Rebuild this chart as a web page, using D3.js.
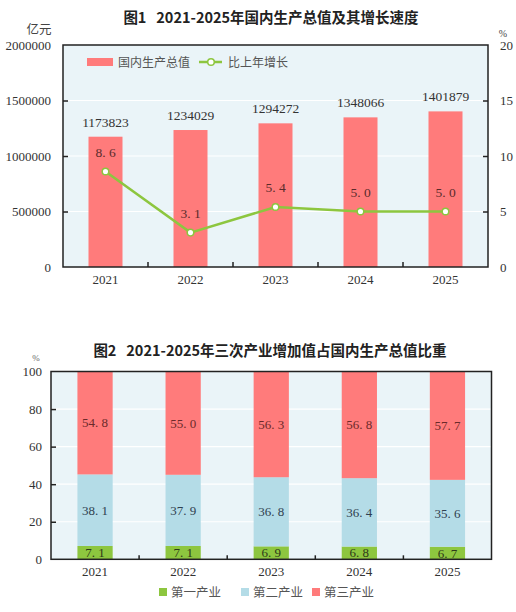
<!DOCTYPE html>
<html><head><meta charset="utf-8">
<script src="https://cdn.jsdelivr.net/npm/d3@7"></script>
<style>
body{margin:0;background:#fff;}
svg{display:block;}
.ttl{white-space:pre;}
</style></head>
<body><svg id="c" width="516" height="612"></svg>
<script>
// ---- data ----
const years = ["2021","2022","2023","2024","2025"];
const gdp = [1173823, 1234029, 1294272, 1348066, 1401879];
const growth = [8.6, 3.1, 5.4, 5.0, 5.0];
const gdpTicks = [0, 500000, 1000000, 1500000, 2000000];
const growthTicks = [0, 5, 10, 15, 20];
const primary = [7.1, 7.1, 6.9, 6.8, 6.7];
const secondary = [38.1, 37.9, 36.8, 36.4, 35.6];
const tertiary = [54.8, 55.0, 56.3, 56.8, 57.7];
const shareTicks = [0, 20, 40, 60, 80, 100];
const sectorNames = ["第一产业", "第二产业", "第三产业"];
const title1 = "图1   2021-2025年国内生产总值及其增长速度";
const title2 = "图2   2021-2025年三次产业增加值占国内生产总值比重";

const RED = "#ff7b7b", GREEN = "#8dc63f", BLUE = "#b4dce7", BG = "#eaf4f8";
const serif = "'Liberation Serif','DejaVu Serif',serif";
const cjk = "'Noto Sans CJK SC','Noto Sans',sans-serif";
const fmt1 = d => d.toFixed(1).replace(".", ". ");

const svg = d3.select("#c");

// ================= Chart 1 =================
{
  const L = 63, R = 488, T = 45, B = 267;
  const x = d3.scaleBand().domain(years).range([L, R]).paddingInner(0.6).paddingOuter(0.3);
  const y = d3.scaleLinear().domain([0, 2000000]).range([B, T]);
  const y2 = d3.scaleLinear().domain([0, 20]).range([B, T]);
  const g = svg.append("g");

  g.append("text").attr("class", "ttl").attr("xml:space", "preserve").attr("x", 271).attr("y", 23).attr("text-anchor", "middle")
    .attr("font-family", cjk).attr("font-weight", "bold").attr("font-size", 14.5).attr("fill", "#222").text(title1);

  g.append("rect").attr("x", L).attr("y", T).attr("width", R - L).attr("height", B - T).attr("fill", BG);
  g.append("g").selectAll("line").data(gdpTicks.slice(1, -1)).join("line")
    .attr("x1", L).attr("x2", R).attr("y1", d => y(d)).attr("y2", d => y(d))
    .attr("stroke", "#fff").attr("stroke-width", 1.2);

  g.selectAll(".bar").data(gdp).join("rect").attr("class", "bar")
    .attr("x", (d, i) => x(years[i])).attr("width", x.bandwidth())
    .attr("y", d => y(d)).attr("height", d => B - y(d)).attr("fill", RED);

  g.selectAll(".bl").data(gdp).join("text").attr("class", "bl")
    .attr("x", (d, i) => x(years[i]) + x.bandwidth() / 2).attr("y", d => y(d) - 10)
    .attr("text-anchor", "middle").attr("font-family", serif).attr("font-size", 13.5).attr("fill", "#333")
    .text(d => d);

  // axes
  const ax = g.append("g").attr("transform", `translate(${L},0)`)
    .call(d3.axisLeft(y).tickValues(gdpTicks).tickSize(-5).tickPadding(12).tickFormat(d3.format("d")));
  ax.select(".domain").remove();
  ax.selectAll("text").attr("font-family", serif).attr("font-size", 13).attr("fill", "#333");
  ax.selectAll("line").attr("stroke", "#222").attr("stroke-width", 1.5);
  ax.selectAll(".tick").filter(d => d === 0 || d === 2000000).select("line").remove();

  const ax2 = g.append("g").attr("transform", `translate(${R},0)`)
    .call(d3.axisRight(y2).tickValues(growthTicks).tickSize(-5).tickPadding(12));
  ax2.select(".domain").remove();
  ax2.selectAll("text").attr("font-family", serif).attr("font-size", 13).attr("fill", "#333");
  ax2.selectAll("line").attr("stroke", "#222").attr("stroke-width", 1.5);
  ax2.selectAll(".tick").filter(d => d === 0 || d === 20).select("line").remove();

  // x axis
  const bounds = years.slice(1).map(yr => x(yr) - x.step() * x.paddingInner() / 2);
  g.selectAll(".xt").data(bounds).join("line").attr("class", "xt")
    .attr("x1", d => d).attr("x2", d => d).attr("y1", B).attr("y2", B - 5)
    .attr("stroke", "#222").attr("stroke-width", 1.5);
  g.selectAll(".xl").data(years).join("text").attr("class", "xl")
    .attr("x", d => x(d) + x.bandwidth() / 2).attr("y", B + 17).attr("text-anchor", "middle")
    .attr("font-family", serif).attr("font-size", 13).attr("fill", "#333").text(d => d);

  g.append("rect").attr("x", L).attr("y", T).attr("width", R - L).attr("height", B - T)
    .attr("fill", "none").attr("stroke", "#222").attr("stroke-width", 1.5);

  g.append("text").attr("x", 39).attr("y", 34).attr("text-anchor", "middle")
    .attr("font-family", cjk).attr("font-size", 12.5).attr("fill", "#444").text("亿元");
  g.append("text").attr("x", 503).attr("y", 37).attr("text-anchor", "middle")
    .attr("font-family", serif).attr("font-size", 10).attr("fill", "#444").text("%");

  // line
  const cx = (d, i) => x(years[i]) + x.bandwidth() / 2;
  g.append("path").datum(growth)
    .attr("d", d3.line().x(cx).y(d => y2(d)))
    .attr("fill", "none").attr("stroke", GREEN).attr("stroke-width", 2.5);
  g.selectAll(".pt").data(growth).join("circle").attr("class", "pt")
    .attr("cx", cx).attr("cy", d => y2(d)).attr("r", 3.3)
    .attr("fill", "#fff").attr("stroke", GREEN).attr("stroke-width", 1.5);
  g.selectAll(".pl").data(growth).join("text").attr("class", "pl")
    .attr("x", cx).attr("y", d => y2(d) - 15).attr("text-anchor", "middle")
    .attr("font-family", serif).attr("font-size", 13.5).attr("fill", "#5a2b2b").text(fmt1);

  // legend
  g.append("rect").attr("x", 87).attr("y", 58).attr("width", 26).attr("height", 8).attr("fill", RED);
  g.append("text").attr("x", 118).attr("y", 66.5).attr("font-family", cjk).attr("font-size", 12)
    .attr("fill", "#555").text("国内生产总值");
  g.append("line").attr("x1", 199).attr("x2", 222).attr("y1", 62).attr("y2", 62).attr("stroke", GREEN).attr("stroke-width", 2.5);
  g.append("circle").attr("cx", 211).attr("cy", 62).attr("r", 3.3).attr("fill", "#fff").attr("stroke", GREEN).attr("stroke-width", 1.5);
  g.append("text").attr("x", 228).attr("y", 66.5).attr("font-family", cjk).attr("font-size", 12)
    .attr("fill", "#555").text("比上年增长");
}

// ================= Chart 2 =================
{
  const L = 51, R = 491.5, T = 371.5, B = 559.3;
  const x = d3.scaleBand().domain(years).range([L, R]).paddingInner(0.6).paddingOuter(0.3);
  const y = d3.scaleLinear().domain([0, 100]).range([B, T]);
  const g = svg.append("g");

  g.append("text").attr("class", "ttl").attr("xml:space", "preserve").attr("x", 270).attr("y", 356).attr("text-anchor", "middle")
    .attr("font-family", cjk).attr("font-weight", "bold").attr("font-size", 14.5).attr("fill", "#222").text(title2);

  g.append("rect").attr("x", L).attr("y", T).attr("width", R - L).attr("height", B - T).attr("fill", BG);
  g.append("g").selectAll("line").data(shareTicks.slice(1, -1)).join("line")
    .attr("x1", L).attr("x2", R).attr("y1", d => y(d)).attr("y2", d => y(d))
    .attr("stroke", "#fff").attr("stroke-width", 1.2);

  const rows = years.map((yr, i) => ({ year: yr, p: primary[i], s: secondary[i], t: tertiary[i] }));
  const stack = d3.stack().keys(["p", "s", "t"])(rows);
  const colors = [GREEN, BLUE, RED];
  const labelColors = ["#2e3a1a", "#2f3f4f", "#6b2a2a"];

  stack.forEach((layer, k) => {
    g.selectAll(".s" + k).data(layer).join("rect").attr("class", "s" + k)
      .attr("x", d => x(d.data.year)).attr("width", x.bandwidth())
      .attr("y", d => y(d[1])).attr("height", d => y(d[0]) - y(d[1])).attr("fill", colors[k]);
  });
  stack.forEach((layer, k) => {
    g.selectAll(".t" + k).data(layer).join("text").attr("class", "t" + k)
      .attr("x", d => x(d.data.year) + x.bandwidth() / 2)
      .attr("y", d => (y(d[0]) + y(d[1])) / 2 + 4.5)
      .attr("text-anchor", "middle").attr("font-family", serif).attr("font-size", 13)
      .attr("fill", labelColors[k]).text(d => fmt1(d[1] - d[0]));
  });

  const ax = g.append("g").attr("transform", `translate(${L},0)`)
    .call(d3.axisLeft(y).tickValues(shareTicks).tickSize(-5).tickPadding(9));
  ax.select(".domain").remove();
  ax.selectAll("text").attr("font-family", serif).attr("font-size", 13).attr("fill", "#333");
  ax.selectAll("line").attr("stroke", "#222").attr("stroke-width", 1.5);
  ax.selectAll(".tick").filter(d => d === 0 || d === 100).select("line").remove();

  const bounds = years.slice(1).map(yr => x(yr) - x.step() * x.paddingInner() / 2);
  g.selectAll(".xt").data(bounds).join("line").attr("class", "xt")
    .attr("x1", d => d).attr("x2", d => d).attr("y1", B).attr("y2", B - 4)
    .attr("stroke", "#222").attr("stroke-width", 1.5);
  g.selectAll(".xl").data(years).join("text").attr("class", "xl")
    .attr("x", d => x(d) + x.bandwidth() / 2).attr("y", B + 17).attr("text-anchor", "middle")
    .attr("font-family", serif).attr("font-size", 13).attr("fill", "#333").text(d => d);

  g.append("rect").attr("x", L).attr("y", T).attr("width", R - L).attr("height", B - T)
    .attr("fill", "none").attr("stroke", "#222").attr("stroke-width", 1.5);

  g.append("text").attr("x", 36).attr("y", 361).attr("text-anchor", "middle")
    .attr("font-family", serif).attr("font-size", 9).attr("fill", "#666").text("%");

  // legend
  const lx = [159, 241, 312];
  sectorNames.forEach((n, k) => {
    g.append("rect").attr("x", lx[k]).attr("y", 588).attr("width", 8).attr("height", 8).attr("fill", colors[k]);
    g.append("text").attr("x", lx[k] + 12).attr("y", 597).attr("font-family", cjk).attr("font-size", 12.5)
      .attr("fill", "#555").text(n);
  });
}
</script></body></html>
